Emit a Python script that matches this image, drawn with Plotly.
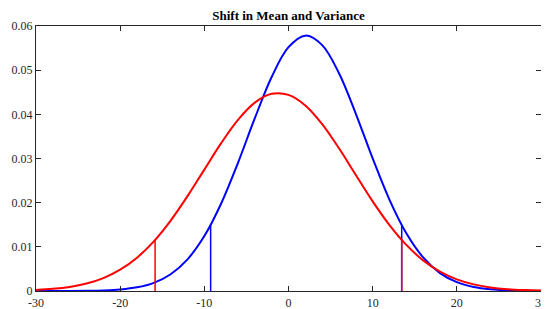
import plotly.graph_objects as go

x_vals = [-30, -28, -26, -24, -22, -20, -18, -16, -14, -12, -10, -8, -6, -4, -2, 0,
          2, 4, 6, 8, 10, 12, 14, 16, 18, 20, 22, 24, 26, 28, 30]
blue_vals = [0.0000012, 0.0000043, 0.0000145, 0.000045, 0.00013, 0.000342, 0.00083,
             0.001854, 0.003802, 0.00717, 0.01243, 0.01982, 0.02903, 0.03912, 0.04846,
             0.05521, 0.05782, 0.05567, 0.04929, 0.04012, 0.03002, 0.02065, 0.01307,
             0.0076, 0.00406, 0.002, 0.000903, 0.000375, 0.000143, 0.00005, 0.000016]
red_vals = [0.000239, 0.000482, 0.000923, 0.001683, 0.00292, 0.00482, 0.00754, 0.01124,
            0.01594, 0.02147, 0.02749, 0.03348, 0.03876, 0.04266, 0.04464, 0.04441,
            0.04202, 0.03779, 0.03231, 0.02627, 0.0203, 0.01492, 0.01043, 0.00693,
            0.00437, 0.00263, 0.0015, 0.000814, 0.00042, 0.000206, 0.000096]

blue_bounds_x = [-9.25, 13.45]
blue_bounds_y = [0.0149, 0.0149]
red_bounds_x = [-15.85, 13.45]
red_bounds_y = [0.01155, 0.01155]

x_ticks = [-30, -20, -10, 0, 10, 20, 30]
x_tick_text = ["-30", "-20", "-10", "0", "10", "20", "30"]
y_ticks = [0, 0.01, 0.02, 0.03, 0.04, 0.05, 0.06]
y_tick_text = ["0", "0.01", "0.02", "0.03", "0.04", "0.05", "0.06"]

BLUE = "#0000ff"
RED = "#ff0000"

fig = go.Figure()

fig.add_trace(go.Scatter(x=x_vals, y=blue_vals, mode="lines",
                         line=dict(color=BLUE, width=2, shape="spline"), showlegend=False))
for bx, by in zip(blue_bounds_x, blue_bounds_y):
    fig.add_trace(go.Scatter(x=[bx, bx], y=[0, by], mode="lines",
                             line=dict(color=BLUE, width=1.5), showlegend=False))

fig.add_trace(go.Scatter(x=x_vals, y=red_vals, mode="lines",
                         line=dict(color=RED, width=2, shape="spline"), showlegend=False))
for rx, ry in zip(red_bounds_x, red_bounds_y):
    fig.add_trace(go.Scatter(x=[rx, rx], y=[0, ry], mode="lines",
                             line=dict(color=RED, width=1.5), showlegend=False))

# The page body has an 8px margin, so the figure is sized to the visible area.
fig.update_layout(
    width=541, height=301,
    margin=dict(l=28, r=8, t=18, b=18, autoexpand=False),
    paper_bgcolor="white", plot_bgcolor="white",
    font=dict(family="Liberation Serif", size=12, color="#262626"),
    title=dict(text="<b>Shift in Mean and Variance</b>", x=0.5, xref="paper",
               y=1 - 7 / 301, yref="container", yanchor="middle", automargin=False,
               font=dict(family="Liberation Serif", size=13, color="black")),
)
fig.update_xaxes(range=[-30, 30], tickvals=x_ticks, ticktext=x_tick_text,
                 showgrid=False, zeroline=False, showline=True, linecolor="#262626",
                 linewidth=1, mirror="ticks", ticks="inside", ticklen=5,
                 tickcolor="#262626", tickfont=dict(size=12), automargin=False,
                 ticklabeloverflow="allow", ticklabelstandoff=1)
fig.update_yaxes(range=[0, 0.06], tickvals=y_ticks, ticktext=y_tick_text,
                 showgrid=False, zeroline=False, showline=True, linecolor="#262626",
                 linewidth=1, mirror="ticks", ticks="inside", ticklen=5,
                 tickcolor="#262626", tickfont=dict(size=12), automargin=False,
                 ticklabeloverflow="allow")

fig.write_html("out.html")
